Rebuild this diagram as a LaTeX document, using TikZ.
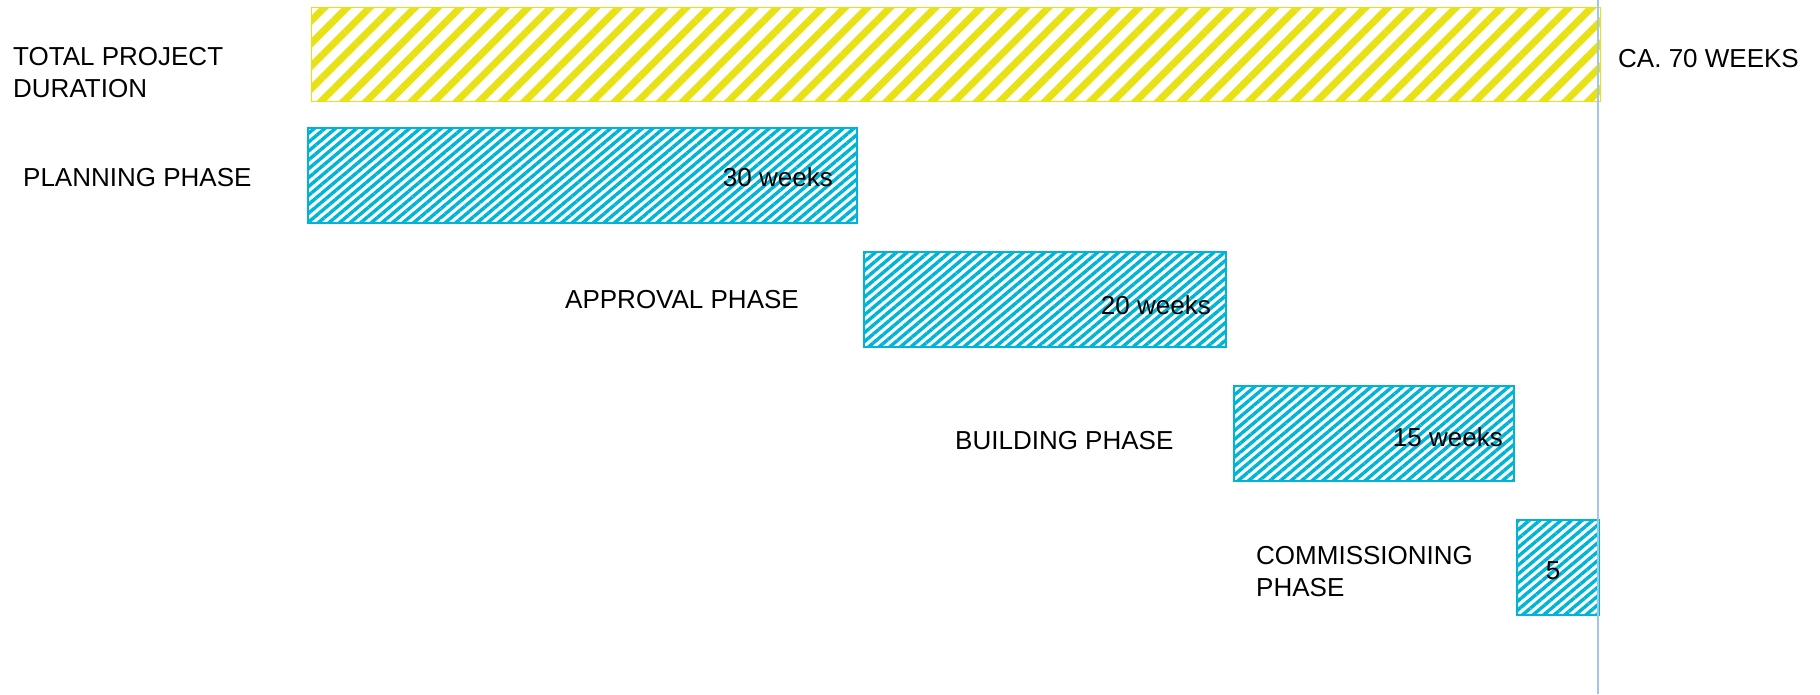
\documentclass[tikz,border=0pt]{standalone}
\usepackage{fontspec}
\setmainfont{Liberation Sans}
\usetikzlibrary{patterns.meta}
\definecolor{hatchyellow}{RGB}{232,226,20}
\definecolor{hatchblue}{RGB}{0,180,214}
\definecolor{lineblue}{RGB}{160,200,228}
\tikzset{
  lbl/.style={inner sep=0pt, anchor=base west, font=\fontsize{26}{32}\selectfont, align=left},
  wk/.style={inner sep=0pt, anchor=base east, font=\fontsize{26}{32}\selectfont},
  ybar/.style={draw=hatchyellow, line width=1.6pt, inner sep=0pt, anchor=north west,
    pattern={Lines[angle=45, distance=16pt, line width=7pt]}, pattern color=hatchyellow},
  bbar/.style={draw=hatchblue, line width=1.6pt, inner sep=0pt, anchor=north west,
    pattern={Lines[angle=40, distance=6.8pt, line width=3.4pt]}, pattern color=hatchblue},
}
\begin{document}
\begin{tikzpicture}[x=1pt, y=-1pt]
\useasboundingbox (0,0) rectangle (1820,694);
% bars
\node[ybar, minimum width=1289pt, minimum height=94pt] (total) at (308,4) {};
\node[bbar, minimum width=549pt, minimum height=95pt] (plan) at (306,126) {};
\node[bbar, minimum width=362pt, minimum height=95pt] (appr) at (863,251) {};
\node[bbar, minimum width=280pt, minimum height=95pt] (build) at (1233,385) {};
\node[bbar, minimum width=82pt, minimum height=95pt] (comm) at (1516,519) {};
% end line
\coordinate (ltop) at (1598,0);
\coordinate (lbot) at (1598,694);
\draw[lineblue, line width=2pt] (ltop) -- (lbot);
% labels
\node[lbl] (ltotal) at (13,97) {TOTAL PROJECT\\DURATION};
\node[lbl] (lplan) at (23,186) {PLANNING PHASE};
\node[lbl] (lappr) at (565,308) {APPROVAL PHASE};
\node[lbl] (lbuild) at (955,449) {BUILDING PHASE};
\node[lbl] (lcomm) at (1256,596) {COMMISSIONING\\PHASE};
\node[lbl] (ldur) at (1618,67) {CA. 70 WEEKS};
% durations
\node[wk] (wplan) at (833,186) {30 weeks};
\node[wk] (wappr) at (1211,314) {20 weeks};
\node[wk] (wbuild) at (1503,446) {15 weeks};
\node[inner sep=0pt, anchor=base, font=\fontsize{26}{32}\selectfont] (wcomm) at (1553,579) {5};
\end{tikzpicture}
\end{document}
